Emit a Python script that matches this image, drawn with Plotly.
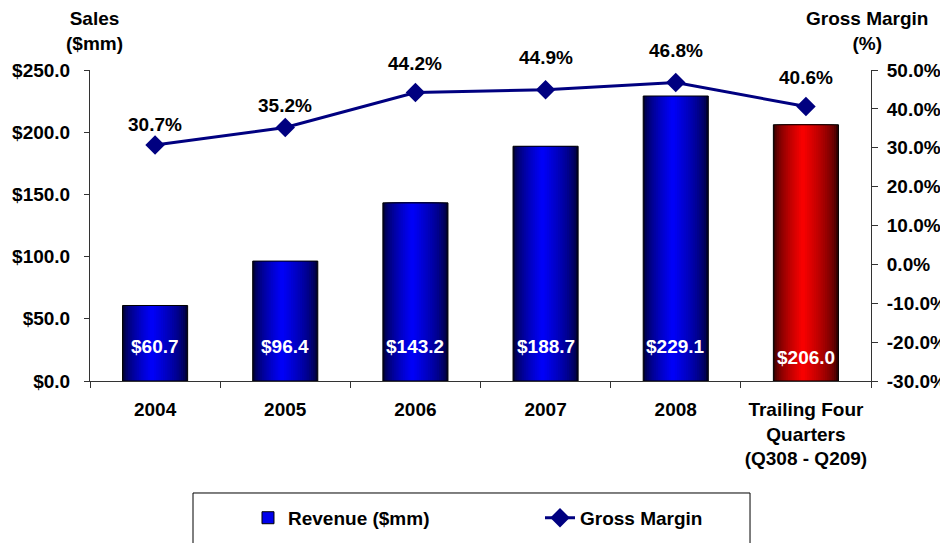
"""Revenue and gross margin combo chart."""

import plotly.graph_objects as go

CATEGORIES = ["2004", "2005", "2006", "2007", "2008",
              "Trailing Four<br>Quarters<br>(Q308 - Q209)"]
REVENUE = [60.7, 96.4, 143.2, 188.7, 229.1, 206.0]
GROSS_MARGIN = [30.7, 35.2, 44.2, 44.9, 46.8, 40.6]
REVENUE_LABELS = ["$60.7", "$96.4", "$143.2", "$188.7", "$229.1", "$206.0"]
MARGIN_LABELS = ["30.7%", "35.2%", "44.2%", "44.9%", "46.8%", "40.6%"]
IS_TRAILING = [False, False, False, False, False, True]

SALES_TICKS = [0, 50, 100, 150, 200, 250]
SALES_TICK_TEXT = ["$0.0", "$50.0", "$100.0", "$150.0", "$200.0", "$250.0"]
MARGIN_TICKS = [-30, -20, -10, 0, 10, 20, 30, 40, 50]
MARGIN_TICK_TEXT = ["-30.0%", "-20.0%", "-10.0%", "0.0%", "10.0%",
                    "20.0%", "30.0%", "40.0%", "50.0%"]

# pixel lift of each margin label above its marker (style only)
MARGIN_LABEL_LIFT = [21, 22, 29, 32, 32, 29]

FONT = "Liberation Sans, Arial, sans-serif"
NAVY = "#000080"
AXIS_GREY = "#333333"
BAR_WIDTH = 0.5
N_LAYERS = 16
FS = 19


def shade(f, red):
    # f = 0 at bar edge, 1 at bright centre
    v = int(50 + 205 * f ** 0.6)
    return f"rgb({v},0,0)" if red else f"rgb(0,0,{v})"


fig = go.Figure()

# gradient bars drawn as overlaid layers of narrowing width
for k in range(N_LAYERS):
    f = k / N_LAYERS
    width = BAR_WIDTH * (1 - f)
    offset = -BAR_WIDTH / 2 + f * BAR_WIDTH * 0.45
    fig.add_trace(
        go.Bar(
            x=CATEGORIES,
            y=REVENUE,
            width=[width] * len(CATEGORIES),
            offset=[offset] * len(CATEGORIES),
            marker=dict(color=[shade(f, r) for r in IS_TRAILING], line=dict(width=0)),
            name="Revenue ($mm)",
            showlegend=False,
            hoverinfo="skip",
        )
    )

# outline on top of the gradient layers
fig.add_trace(
    go.Bar(
        x=CATEGORIES,
        y=REVENUE,
        width=[BAR_WIDTH] * len(CATEGORIES),
        marker=dict(color="rgba(0,0,0,0)", line=dict(color="black", width=1)),
        name="Revenue ($mm)",
        showlegend=False,
        text=REVENUE_LABELS,
        hovertemplate="%{x}: %{text}<extra></extra>",
        textposition="none",
    )
)
# legend entry only
fig.add_trace(
    go.Bar(
        x=[None],
        y=[None],
        marker=dict(color="rgb(0,0,235)", line=dict(color="black", width=1)),
        name="Revenue ($mm)",
    )
)

fig.add_trace(
    go.Scatter(
        x=CATEGORIES,
        y=GROSS_MARGIN,
        yaxis="y2",
        mode="lines+markers",
        name="Gross Margin",
        line=dict(color=NAVY, width=3),
        marker=dict(symbol="diamond", size=15, color=NAVY),
        cliponaxis=False,
    )
)

label_font = dict(family=FONT, size=FS, color="black", weight="bold")
for i, (val, lab, lift) in enumerate(zip(GROSS_MARGIN, MARGIN_LABELS, MARGIN_LABEL_LIFT)):
    fig.add_annotation(
        x=i, y=val, xref="x", yref="y2", yshift=lift,
        text=lab, showarrow=False, font=label_font,
    )

# value labels near the bar bases
for i, (lab, trailing) in enumerate(zip(REVENUE_LABELS, IS_TRAILING)):
    fig.add_annotation(
        x=i, y=18.5 if trailing else 28, xref="x", yref="y",
        text=lab, showarrow=False,
        font=dict(family=FONT, size=FS, color="white", weight="bold"),
    )

fig.add_annotation(
    xref="paper", yref="paper", x=0.0064, y=1.206, xanchor="center", yanchor="top",
    text="Sales<br>($mm)", showarrow=False, align="center", font=label_font,
)
fig.add_annotation(
    xref="paper", yref="paper", x=0.995, y=1.206, xanchor="center", yanchor="top",
    text="Gross Margin<br>(%)", showarrow=False, align="center", font=label_font,
)

# legend frame (open at the bottom edge of the picture)
fig.add_shape(
    type="rect", xref="paper", yref="paper",
    x0=0.1319, x1=0.8451, y0=-0.3601, y1=-0.60,
    line=dict(color="black", width=1), fillcolor="rgba(0,0,0,0)",
)

axis_font = dict(family=FONT, size=FS, color="black", weight="bold")
# the page adds an 8px body margin, so the figure is 8px smaller than the window
fig.update_layout(
    width=940,
    height=535,
    template="plotly_white",
    plot_bgcolor="white",
    paper_bgcolor="white",
    margin=dict(l=82, r=77, t=62, b=162, autoexpand=False),
    barmode="overlay",
    showlegend=True,
    font=dict(family=FONT, size=FS, color="black"),
    xaxis=dict(
        tickfont=axis_font,
        tickangle=0,
        showgrid=False,
        showline=True,
        linecolor=AXIS_GREY,
        ticks="outside",
        tickson="boundaries",
        ticklen=6,
        tickcolor=AXIS_GREY,
        ticklabelstandoff=11,
        range=[-0.5, 5.5],
    ),
    xaxis2=dict(
        overlaying="x",
        anchor="y",
        range=[-0.5, 5.5],
        tickvals=[-0.5, 0.5, 1.5, 2.5, 3.5, 4.5, 5.5],
        ticks="inside",
        ticklen=6,
        tickcolor=AXIS_GREY,
        showticklabels=False,
        showgrid=False,
        showline=False,
        zeroline=False,
    ),
    yaxis=dict(
        range=[0, 250],
        tickvals=SALES_TICKS,
        ticktext=SALES_TICK_TEXT,
        tickfont=axis_font,
        showgrid=False,
        zeroline=False,
        showline=True,
        linecolor=AXIS_GREY,
        ticks="outside",
        ticklen=5,
        tickcolor=AXIS_GREY,
        ticklabelstandoff=10,
    ),
    yaxis3=dict(
        overlaying="y",
        anchor="x",
        range=[0, 250],
        tickvals=SALES_TICKS,
        ticks="inside",
        ticklen=6,
        tickcolor=AXIS_GREY,
        showticklabels=False,
        showgrid=False,
        showline=False,
        zeroline=False,
    ),
    yaxis2=dict(
        range=[-30, 50],
        tickvals=MARGIN_TICKS,
        ticktext=MARGIN_TICK_TEXT,
        tickfont=axis_font,
        overlaying="y",
        side="right",
        anchor="x",
        showgrid=False,
        zeroline=False,
        showline=True,
        linecolor=AXIS_GREY,
        ticks="outside",
        ticklen=6,
        tickcolor=AXIS_GREY,
        ticklabelstandoff=5,
    ),
    yaxis4=dict(
        overlaying="y",
        side="right",
        anchor="x",
        range=[-30, 50],
        tickvals=MARGIN_TICKS,
        ticks="inside",
        ticklen=6,
        tickcolor=AXIS_GREY,
        showticklabels=False,
        showgrid=False,
        showline=False,
        zeroline=False,
    ),
    legend=dict(
        orientation="h",
        x=0.2023,
        xanchor="left",
        y=-0.379,
        yanchor="top",
        borderwidth=0,
        entrywidth=247,
        font=dict(family=FONT, size=FS, color="black", weight="bold"),
        traceorder="normal",
        bgcolor="rgba(0,0,0,0)",
    ),
)

fig.write_html("out.html")
